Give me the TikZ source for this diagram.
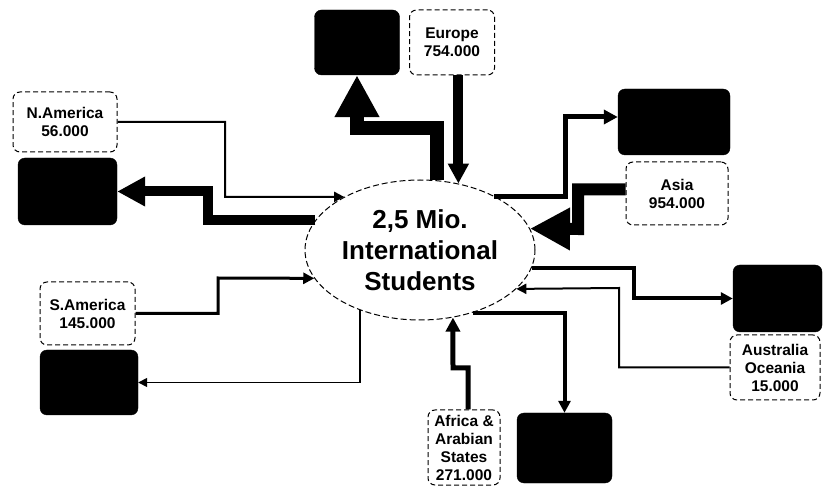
\documentclass[tikz,border=0pt]{standalone}
\usepackage{fontspec}
\setmainfont{Liberation Sans}
\usetikzlibrary{shapes.geometric, arrows.meta, positioning, calc}
\definecolor{flowblack}{HTML}{000000}
\definecolor{labelwhite}{HTML}{FFFFFF}

\begin{document}
\begin{tikzpicture}[
  x=1pt, y=1pt,
  regionbox/.style 2 args={
    rectangle, rounded corners=7pt,
    minimum width=#1, minimum height=#2, inner sep=0pt,
    draw=flowblack, fill=flowblack
  },
  countbox/.style 2 args={
    rectangle, rounded corners=7pt,
    minimum width=#1, minimum height=#2, inner sep=0pt,
    draw=flowblack, fill=labelwhite, line width=1pt, dash pattern=on 5pt off 3pt,
    font=\fontsize{15.5}{18}\selectfont\bfseries, align=center
  },
  flowarr/.style 2 args={flowblack, line width=#1, -{Triangle[length=#2, width=#2]}}
]
  \useasboundingbox (0,0) rectangle (823,488);

  \node[ellipse, draw=flowblack, line width=1pt, dash pattern=on 6pt off 3pt,
    minimum width=230pt, minimum height=140pt, inner sep=0pt,
    font=\fontsize{26}{31}\selectfont\bfseries, align=center]
    (students) at (420,238) {2,5 Mio.\\International\\Students};

  % destination boxes
  \node[regionbox={85pt}{65pt}] (outnorth) at (357,445.5) {};
  \node[regionbox={112pt}{66pt}] (outeast) at (674,366) {};
  \node[regionbox={99pt}{67pt}] (outwest) at (67.5,296.5) {};
  \node[regionbox={98pt}{65pt}] (outsouthwest) at (89,105.5) {};
  \node[regionbox={95pt}{70pt}] (outsouth) at (564.5,40) {};
  \node[regionbox={89pt}{67pt}] (outsoutheast) at (777.5,189.5) {};

  % origin regions
  \node[countbox={85pt}{65pt}] (europe) at (452,445.5) {Europe\\754.000};
  \node[countbox={104pt}{60pt}] (namerica) at (65,366) {N.America\\56.000};
  \node[countbox={102pt}{63pt}] (asia) at (677,294.5) {Asia\\954.000};
  \node[countbox={95pt}{63pt}] (samerica) at (87.5,174.5) {S.America\\145.000};
  \node[countbox={90pt}{65pt}] (oceania) at (775,120.5) {Australia\\Oceania\\15.000};
  \node[countbox={72pt}{75pt}] (africa) at (464,40.5) {Africa \&\\Arabian\\States\\271.000};

  % inflows
  \draw[flowarr={10pt}{20pt}] (europe.south -| students.60) -- (students.60);
  \draw[flowarr={12pt}{40pt}] ([yshift=4pt]asia.west) -| (578,259) -- (students.11);
  \draw[flowarr={2pt}{10pt}] (namerica.east) -| (225,291) -- (students.145);
  \draw[flowarr={3pt}{11pt}] (samerica.east) -| (218,210) -- (students.195);
  \draw[flowarr={5pt}{14pt}] ([xshift=4pt]africa.north) |- (453,120) -- (students.296);
  \draw[flowarr={2pt}{10pt}] (oceania.west) -| (619,200) -- (students.338);

  % outflows
  \draw[flowarr={14pt}{42pt}] (students.76) |- (357,360) -- (outnorth.south);
  \draw[flowarr={10pt}{28pt}] (students.164) -| (208,296.5) -- (outwest.east);
  \draw[flowarr={5pt}{14pt}] (students.36) -| (565,371) -- ([yshift=5pt]outeast.west);
  \draw[flowarr={4pt}{12pt}] (students.351) -| (634,189.5) -- (outsoutheast.west);
  \draw[flowarr={4pt}{12pt}] (students.310) -| (outsouth.north);
  \draw[flowarr={1.5pt}{9pt}] (students.225) |- (outsouthwest.east);
\end{tikzpicture}
\end{document}
